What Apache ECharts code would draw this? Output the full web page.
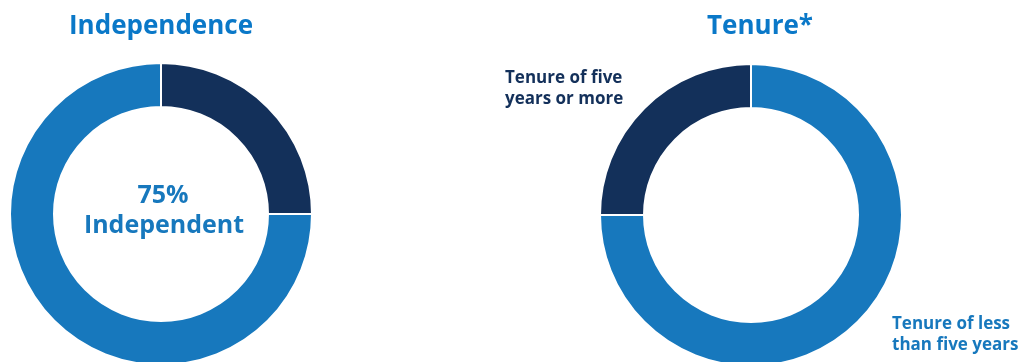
<!DOCTYPE html>
<html>
<head>
<meta charset="utf-8">
<script src="https://cdn.jsdelivr.net/npm/echarts@6/dist/echarts.min.js"></script>
<style>
html,body{margin:0;padding:0;background:#fff;}
#chart{width:1021px;height:362px;}
</style>
</head>
<body>
<div id="chart"></div>
<script>
// Data
const chartTitles = ['Independence', 'Tenure*'];
const independenceCategories = ['Not independent', 'Independent'];
const independenceValues = [25, 75];
const tenureCategories = ['Tenure of less\nthan five years', 'Tenure of five\nyears or more'];
const tenureValues = [75, 25];
const centerLabel = ['75%', 'Independent'];

const BLUE = '#1778BD';
const NAVY = '#13305A';
const TITLE_BLUE = '#0A78C8';
const FONT = '"Open Sans", "Noto Sans", sans-serif';

const chart = echarts.init(document.getElementById('chart'), null, {renderer: 'canvas'});

const ringStyle = {borderColor: '#ffffff', borderWidth: 2};

chart.setOption({
  animation: false,
  backgroundColor: '#ffffff',
  series: [
    {
      type: 'pie',
      center: [161, 214],
      radius: [107, 151],
      startAngle: 90,
      clockwise: true,
      silent: true,
      label: {show: false},
      labelLine: {show: false},
      itemStyle: ringStyle,
      data: independenceCategories.map((c, i) => ({
        name: c, value: independenceValues[i],
        itemStyle: {color: i === 0 ? NAVY : BLUE}
      }))
    },
    {
      type: 'pie',
      center: [751, 215],
      radius: [107, 151],
      startAngle: 90,
      clockwise: true,
      silent: true,
      label: {show: false},
      labelLine: {show: false},
      itemStyle: ringStyle,
      data: tenureCategories.map((c, i) => ({
        name: c, value: tenureValues[i],
        itemStyle: {color: i === 0 ? BLUE : NAVY}
      }))
    }
  ],
  graphic: [
    {type: 'text', x: 161, y: 27,
     style: {text: chartTitles[0], align: 'center', verticalAlign: 'middle',
             font: 'bold 26px ' + FONT, fill: TITLE_BLUE}},
    {type: 'text', x: 760, y: 27,
     style: {text: chartTitles[1], align: 'center', verticalAlign: 'middle',
             font: 'bold 26px ' + FONT, fill: TITLE_BLUE}},
    {type: 'text', x: 163, y: 196,
     style: {text: centerLabel[0], align: 'center', verticalAlign: 'middle',
             font: 'bold 25px ' + FONT, fill: BLUE}},
    {type: 'text', x: 164, y: 226,
     style: {text: centerLabel[1], align: 'center', verticalAlign: 'middle',
             font: 'bold 25px ' + FONT, fill: BLUE}},
    {type: 'text', x: 505, y: 89,
     style: {text: tenureCategories[1], align: 'left', verticalAlign: 'middle', lineHeight: 21,
             font: 'bold 17px ' + FONT, fill: NAVY}},
    {type: 'text', x: 892, y: 335,
     style: {text: tenureCategories[0], align: 'left', verticalAlign: 'middle', lineHeight: 21,
             font: 'bold 17px ' + FONT, fill: BLUE}}
  ]
});
</script>
</body>
</html>
